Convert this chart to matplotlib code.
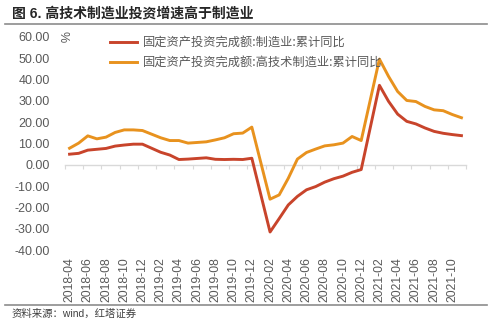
import numpy as np
import pandas as pd
import matplotlib
matplotlib.use('Agg')
import matplotlib.pyplot as plt
from matplotlib.lines import Line2D

plt.rcParams['font.family'] = ['Liberation Sans', 'Noto Sans CJK SC']

# monthly categories, January has no cumulative figure
months = pd.period_range('2018-04', '2021-11', freq='M').strftime('%Y-%m').tolist()
nan = np.nan
mfg = [5.0, 5.4, 6.9, 7.3, 7.7, 8.8, 9.3, 9.7, 9.7,
       nan, 5.9, 4.6, 2.5, 2.7, 3.0, 3.3, 2.6, 2.5, 2.6, 2.5, 3.1,
       nan, -31.5, -25.2, -18.8, -14.8, -11.7, -10.2, -8.1, -6.5, -5.3, -3.5, -2.2,
       nan, 37.3, 29.8, 23.8, 20.4, 19.2, 17.3, 15.7, 14.8, 14.2, 13.7]
hitech = [7.8, 10.2, 13.6, 12.2, 13.0, 15.2, 16.4, 16.4, 16.1,
          nan, 12.7, 11.4, 11.4, 10.2, 10.5, 10.8, 11.7, 12.7, 14.6, 14.9, 17.7,
          nan, -16.1, -14.1, -6.3, 2.7, 5.8, 7.4, 8.9, 9.4, 10.2, 13.3, 11.4,
          nan, 49.6, 41.5, 34.4, 30.2, 29.7, 27.4, 25.8, 25.4, 23.6, 22.1]
names = ['固定资产投资完成额:制造业:累计同比', '固定资产投资完成额:高技术制造业:累计同比']
colors = ['#C8442B', '#E8921E']

grey = '#595959'
fig = plt.figure(figsize=(5, 3.24), dpi=100)
ax = fig.add_axes([0.13, 0.228, 0.802, 0.658])

x = np.arange(len(months))
for vals, name, c in zip([mfg, hitech], names, colors):
    s = pd.Series(vals, index=x).dropna()
    ax.plot(s.index, s.values, color=c, lw=2.1, label=name, solid_joinstyle='round')

ax.set_xlim(-0.5, len(months) - 0.5)
ax.set_ylim(-40, 60)
ax.set_yticks(np.arange(-40, 61, 10))
ax.set_yticklabels(['%.2f' % v for v in np.arange(-40, 61, 10)])
ax.set_xticks(x[::2])
ax.set_xticklabels(months[::2], rotation=90)
ax.tick_params(axis='x', length=0, pad=5, labelsize=8.8, labelcolor=grey)
ax.tick_params(axis='y', length=0, pad=11, labelsize=9, labelcolor=grey)
for sp in ax.spines.values():
    sp.set_visible(False)

# zero line with category tick marks
sec = ax.secondary_xaxis(0.4)
sec.set_xticks(np.arange(-0.5, len(months), 2))
sec.set_xticklabels([])
sec.tick_params(length=3, color='#D9D9D9', width=0.8)
sec.spines['bottom'].set_color('#D9D9D9')
sec.spines['bottom'].set_linewidth(1.0)

ax.text(-0.005, 1.0, '%', transform=ax.transAxes, rotation=-90, fontsize=9,
        color=grey, ha='center', va='center')

leg = ax.legend(loc='upper left', bbox_to_anchor=(0.085, 1.055), frameon=False,
                handlelength=2.2, handletextpad=0.45, labelspacing=0.55,
                prop={'family': ['Noto Sans CJK SC'], 'size': 8.8})
for t in leg.get_texts():
    t.set_color(grey)

fig.text(0.024, 0.958, '图 6. 高技术制造业投资增速高于制造业', fontsize=10, fontweight='bold',
         color='#262626', ha='left', va='center')
fig.add_artist(Line2D([0.01, 0.974], [0.926, 0.926], transform=fig.transFigure,
                      color='#8C8C8C', lw=1.2))
fig.add_artist(Line2D([0.01, 0.974], [0.059, 0.059], transform=fig.transFigure,
                      color='#8C8C8C', lw=1.2))
fig.text(0.024, 0.03, '资料来源：wind，红塔证券', fontsize=7.5, color='#404040',
         ha='left', va='center')

fig.savefig('out.png', dpi=100)
